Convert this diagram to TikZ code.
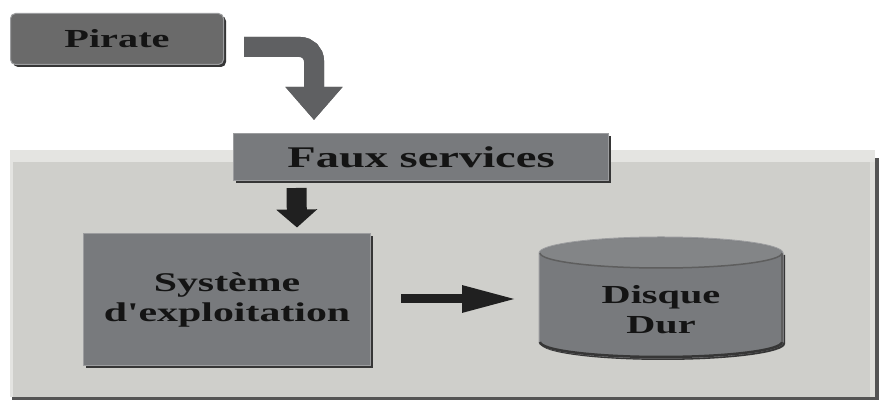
\documentclass[tikz,border=0pt]{standalone}
\usepackage{fontspec}
\newfontfamily\lblfont{Liberation Serif}[FakeStretch=1.55]
\usetikzlibrary{arrows.meta,calc,shadows}

\definecolor{panelgray}{HTML}{CFCFCB}
\definecolor{panellight}{HTML}{E4E4E1}
\definecolor{boxgray}{HTML}{787A7D}
\definecolor{piratgray}{HTML}{6A6A6A}
\definecolor{edgedark}{HTML}{363636}
\definecolor{edgelight}{HTML}{9C9D9F}
\definecolor{inkdark}{HTML}{141414}
\definecolor{arrowgray}{HTML}{5F6062}

\tikzset{
  bevelbox/.style={rectangle, fill=boxgray, draw=edgelight, line width=1pt,
    drop shadow={shadow xshift=2.5pt, shadow yshift=-2.5pt, fill=edgedark, opacity=1},
    text=inkdark, align=center, inner sep=0pt},
  label26/.style={font=\fontsize{26}{30}\selectfont\lblfont\bfseries},
  label27/.style={font=\fontsize{27}{30}\selectfont\lblfont\bfseries},
  label30/.style={font=\fontsize{30}{34}\selectfont\lblfont\bfseries},
  blackarrow/.style={color=inkdark!95!white},
}

\begin{document}
\begin{tikzpicture}[x=1pt,y=1pt]
\useasboundingbox (0,0) rectangle (879,403);
\fill[white] (0,0) rectangle (879,403);

% background panel with bevelled edges
\fill[edgedark!85] (12,3) rectangle (879,245);
\fill[panelgray] (10,6) rectangle (875,253);
\fill[panellight] (10,241) rectangle (875,253);
\fill[panellight] (10,6) rectangle (13,253);
\fill[panellight!70!panelgray] (870,6) rectangle (875,241);

% boxes
\node[bevelbox, fill=piratgray, rounded corners=5pt, minimum width=213pt, minimum height=51pt, label26]
  (pirate) at (117,364) {Pirate};
\node[bevelbox, minimum width=375pt, minimum height=47pt, label30]
  (faux) at (421,246) {Faux services};
\node[bevelbox, minimum width=287pt, minimum height=132pt, label27]
  (sys) at (227,103) {Système\\d'exploitation};

% hard disk cylinder
\coordinate (diskc) at (661,93);
\fill[edgedark] ($(diskc)+(-120,55)$) -- ++(0,-89)
  arc[start angle=180, end angle=360, x radius=122pt, y radius=16pt] -- ++(0,89) -- cycle;
\path[fill=boxgray, draw=edgelight, line width=1pt] ($(diskc)+(-122,57)$) -- ++(0,-89)
  arc[start angle=180, end angle=360, x radius=122pt, y radius=16pt] -- ++(0,89)
  arc[start angle=0, end angle=180, x radius=122pt, y radius=16pt] -- cycle;
\draw[edgedark, line width=2.5pt] ($(diskc)+(-121,-32)$)
  arc[start angle=180, end angle=360, x radius=121pt, y radius=15pt];
\draw[edgedark!80, line width=2pt] ($(diskc)+(121,56)$) -- ++(0,-88);
\fill[boxgray!92!white] ($(diskc)+(0,57)$) ellipse[x radius=121pt, y radius=15pt];
\draw[edgedark!80, line width=1.5pt] ($(diskc)+(-121,57)$)
  arc[start angle=180, end angle=360, x radius=121pt, y radius=15pt];
\node[text=inkdark, align=center, inner sep=0pt, label26] (disk) at (diskc) {Disque\\Dur};

% connectors
\coordinate (c1) at ($(pirate.east)+(20,-8)$);
\coordinate (ctip) at ($(faux.north west)+(81,13)$);
\draw[edgedark!80, line width=20pt, rounded corners=14pt, -{Triangle[width=55pt,length=33pt]},
  xshift=2pt, yshift=-2pt] (c1) -| (ctip);
\draw[arrowgray, line width=20pt, rounded corners=14pt, -{Triangle[width=55pt,length=33pt]}]
  (c1) -| (ctip);

\draw[blackarrow, line width=20pt, -{Triangle[width=40pt,length=18pt]}]
  ($(faux.south)+(-124.5,-7)$) -- ($(sys.north)+(70,6)$);

\draw[blackarrow, line width=9pt, -{Triangle[width=25pt,length=55pt]}]
  ($(sys.east)+(30,1)$) -- ($(diskc)+(-144,11)$);
\end{tikzpicture}
\end{document}
